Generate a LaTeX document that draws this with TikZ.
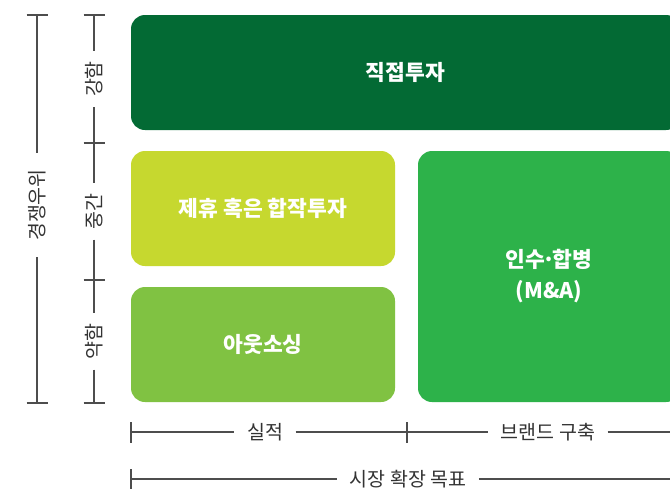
\documentclass[tikz,border=0pt]{standalone}
\usepackage{fontspec}
\setmainfont{Noto Sans CJK KR}
\definecolor{dgreen}{HTML}{036A34}
\definecolor{ygreen}{HTML}{C6D82F}
\definecolor{lgreen}{HTML}{80C242}
\definecolor{mgreen}{HTML}{2DB24A}
\definecolor{axisgray}{HTML}{4D4D4D}
\definecolor{textgray}{HTML}{333333}
\begin{document}
\begin{tikzpicture}[x=1pt,y=-1pt,
  boxnode/.style={rounded corners=14pt,inner sep=0pt,outer sep=0pt,text=white,
    font=\fontsize{21.5}{31}\selectfont\bfseries,align=center},
  axisline/.style={draw=axisgray,line width=1.2pt},
  vlabel/.style={rotate=90,font=\fontsize{19.5}{22}\selectfont,text=textgray,inner xsep=10pt,inner ysep=2pt},
  hlabel/.style={font=\fontsize{19.5}{22}\selectfont,text=textgray,inner xsep=12.5pt,inner ysep=2pt}]
\clip (0,0) rectangle (670,488);
\fill[white] (0,0) rectangle (670,488);
% boxes
\node (direct) [boxnode,fill=dgreen,minimum width=549pt,minimum height=115pt] at (405.5,72.5) {직접투자};
\node (alliance) [boxnode,fill=ygreen,minimum width=264pt,minimum height=115pt] at (263,208.5) {제휴 혹은 합작투자};
\node (outsource) [boxnode,fill=lgreen,minimum width=264pt,minimum height=115pt] at (263,344.5) {아웃소싱};
\node (ma) [boxnode,fill=mgreen,minimum width=262pt,minimum height=251pt] at (549,276.5) {인수\kern-.13em·\kern-.13em합병\\(M\&A)};
% outer vertical axis
\coordinate (o1) at (37,15);
\coordinate (o2) at (37,403);
\node (comp) [vlabel,inner xsep=16pt] at (37,205) {경쟁우위};
\draw[axisline] (o1) -- (comp);
\draw[axisline] (comp) -- (o2);
\draw[axisline] ([xshift=-10.5pt]o1) -- ([xshift=10.5pt]o1);
\draw[axisline] ([xshift=-10.5pt]o2) -- ([xshift=10.5pt]o2);
% inner vertical axis
\coordinate (i1) at (94,15);
\coordinate (i2) at (94,143);
\coordinate (i3) at (94,280);
\coordinate (i4) at (94,403);
\node (strong) [vlabel] at (94,79) {강함};
\node (medium) [vlabel] at (94,211.5) {중간};
\node (weak) [vlabel] at (94,341.5) {약함};
\draw[axisline] (i1) -- (strong);
\draw[axisline] (strong) -- (i2);
\draw[axisline] (i2) -- (medium);
\draw[axisline] (medium) -- (i3);
\draw[axisline] (i3) -- (weak);
\draw[axisline] (weak) -- (i4);
\foreach \c in {i1,i2,i3,i4}
  \draw[axisline] ([xshift=-10.5pt]\c) -- ([xshift=10.5pt]\c);
% bottom axis row 1
\coordinate (b1) at (131,432);
\coordinate (b2) at (407,432);
\coordinate (b3) at (690,432);
\node (perf) [hlabel] at (265,432) {실적};
\node (brand) [hlabel] at (548,432) {브랜드 구축};
\draw[axisline] (b1) -- (perf);
\draw[axisline] (perf) -- (b2);
\draw[axisline] (b2) -- (brand);
\draw[axisline] (brand) -- (b3);
\draw[axisline] ([yshift=-10.5pt]b1) -- ([yshift=10.5pt]b1);
\draw[axisline] ([yshift=-10.5pt]b2) -- ([yshift=10.5pt]b2);
% bottom axis row 2
\coordinate (c1) at (131,479);
\coordinate (c2) at (690,479);
\node (goal) [hlabel] at (408,479) {시장 확장 목표};
\draw[axisline] (c1) -- (goal);
\draw[axisline] (goal) -- (c2);
\draw[axisline] ([yshift=-10.5pt]c1) -- ([yshift=10.5pt]c1);
\end{tikzpicture}
\end{document}
